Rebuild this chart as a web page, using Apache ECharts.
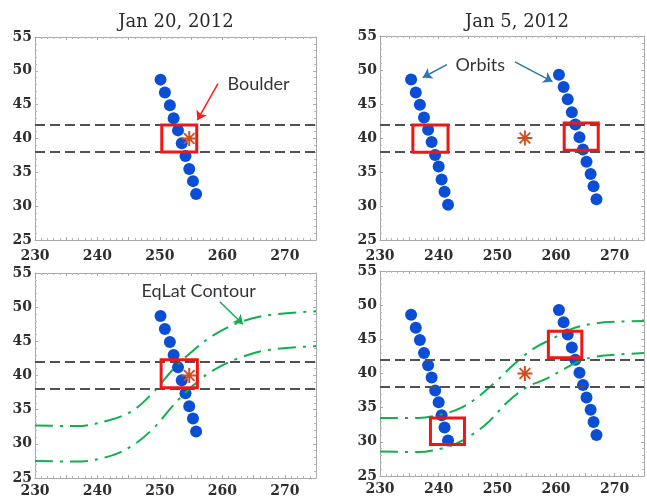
<!DOCTYPE html>
<html>
<head>
<meta charset="utf-8">
<script src="https://cdn.jsdelivr.net/npm/echarts@6/dist/echarts.min.js"></script>
<style>
  html, body { margin: 0; padding: 0; background: #ffffff; }
  #chart { width: 647px; height: 500px; }
</style>
</head>
<body>
<div id="chart"></div>
<script>
// ---- data -------------------------------------------------------------
const lonRange = [230, 275];
const latRange = [25, 55];
const panelTitles = ['Jan 20, 2012', 'Jan 5, 2012'];

// latitude band around Boulder (dashed lines)
const latBand = [38, 42];
// Boulder location (lon E, lat N)
const boulderLon = [254.7];
const boulderLat = [40.0];

// satellite ground tracks
const jan20Lon = [250.1, 250.8, 251.6, 252.2, 252.9, 253.5, 254.1, 254.7, 255.3, 255.8];
const jan20Lat = [48.7, 46.8, 44.9, 43.0, 41.2, 39.3, 37.4, 35.5, 33.7, 31.8];
const jan5WestLon = [235.3, 236.1, 236.8, 237.5, 238.2, 238.8, 239.4, 240.0, 240.5, 241.0, 241.6];
const jan5WestLat = [48.6, 46.7, 44.9, 43.0, 41.2, 39.4, 37.5, 35.8, 33.9, 32.1, 30.2];
const jan5EastLon = [260.5, 261.3, 262.0, 262.7, 263.3, 264.0, 264.6, 265.2, 265.9, 266.4, 266.9];
const jan5EastLat = [49.3, 47.5, 45.7, 43.8, 42.0, 40.1, 38.3, 36.5, 34.7, 32.9, 31.0];

// selected coincidence boxes [lonMin, latMin, lonMax, latMax]
const jan20BoxLat = [[250.3, 38.0, 255.9, 42.0]];
const jan20BoxEqLat = [[250.2, 38.2, 256.0, 42.3]];
const jan5BoxesLat = [[235.6, 37.9, 241.6, 41.9], [261.4, 38.2, 267.2, 42.2]];
const jan5BoxesEqLat = [[238.6, 29.6, 244.4, 33.5], [258.7, 42.3, 264.4, 46.2]];

// equivalent-latitude contours
const jan20ContourLon = [230, 236.7, 242.0, 245.7, 249.0, 252.2, 255.4, 258.6, 262.8, 267.1, 275];
const jan20ContourUpper = [32.7, 32.6, 33.5, 34.9, 37.6, 41.0, 43.7, 45.9, 47.8, 48.8, 49.4];
const jan20ContourLower = [27.5, 27.4, 28.2, 29.8, 32.3, 35.7, 38.6, 40.8, 42.6, 43.7, 44.3];
const jan5UpperLon = [230, 236.5, 240.9, 243.6, 246.3, 249.6, 252.8, 256.1, 259.4, 262.6, 266.4, 271.0, 275];
const jan5UpperLat = [33.5, 33.5, 34.1, 34.9, 36.3, 38.7, 41.3, 43.6, 45.1, 46.5, 47.3, 47.6, 47.7];
const jan5LowerLon = [230, 236.5, 240.9, 243.6, 246.3, 248.5, 251.7, 255.0, 258.3, 261.5, 263.7, 266.4, 271.0, 275];
const jan5LowerLat = [28.6, 28.5, 29.1, 30.0, 31.4, 32.9, 35.8, 38.0, 39.2, 40.7, 41.7, 42.4, 42.8, 43.0];

// ---- helpers ----------------------------------------------------------
const zip = (xs, ys) => xs.map((x, i) => [x, ys[i]]);

const tickFont = {
  fontFamily: 'DejaVu Serif', fontWeight: 'bold', fontSize: 14, color: '#2e2e2e'
};
const frameColor = '#a9a9a9';

const grids = [
  { left: 35, top: 37, width: 281, height: 203 },
  { left: 380, top: 36, width: 276, height: 204 },
  { left: 35, top: 273, width: 281, height: 205 },
  { left: 380, top: 271, width: 276, height: 205 }
];
const xLabelMargin = [9, 9, 6, 6];

function xAxesFor(g) {
  const common = {
    gridIndex: g, type: 'value', min: lonRange[0], max: lonRange[1], interval: 5,
    axisLine: { show: true, onZero: false, lineStyle: { color: frameColor, width: 1 } },
    axisTick: { show: true, inside: true, length: 3, lineStyle: { color: frameColor } },
    minorTick: { show: true, splitNumber: 5, length: 2, lineStyle: { color: '#b8b8b8' } },
    splitLine: { show: false }
  };
  return [
    Object.assign({}, common, {
      position: 'bottom',
      axisLabel: Object.assign({ margin: xLabelMargin[g], formatter: v => (v % 10 === 0 ? String(v) : '') }, tickFont)
    }),
    Object.assign({}, common, { position: 'top', axisLabel: { show: false } })
  ];
}
function yAxesFor(g) {
  const common = {
    gridIndex: g, type: 'value', min: latRange[0], max: latRange[1], interval: 5,
    axisLine: { show: true, onZero: false, lineStyle: { color: frameColor, width: 1 } },
    axisTick: { show: true, inside: true, length: 3, lineStyle: { color: frameColor } },
    minorTick: { show: true, splitNumber: 5, length: 2, lineStyle: { color: '#b8b8b8' } },
    splitLine: { show: false }
  };
  return [
    Object.assign({}, common, { position: 'left', axisLabel: Object.assign({ margin: 3 }, tickFont) }),
    Object.assign({}, common, { position: 'right', axisLabel: { show: false } })
  ];
}

// asterisk marker built from four thin bars
const asterisk = 'path://M8.7,0 L11.3,0 L11.3,20 L8.7,20 Z ' +
  'M0,8.7 L20,8.7 L20,11.3 L0,11.3 Z ' +
  'M2.0,3.8 L3.8,2.0 L18.0,16.2 L16.2,18.0 Z ' +
  'M3.8,18.0 L2.0,16.2 L16.2,2.0 L18.0,3.8 Z';

function orbitSeries(g, lons, lats) {
  return {
    type: 'scatter', xAxisIndex: g * 2, yAxisIndex: g * 2, z: 3,
    symbol: 'circle', symbolSize: 12,
    itemStyle: { color: '#0a4ed6', opacity: 1 },
    data: zip(lons, lats), silent: true
  };
}

function contourSeries(g, lons, lats) {
  return {
    type: 'line', xAxisIndex: g * 2, yAxisIndex: g * 2, z: 4,
    symbol: 'none', smooth: 0.35,
    lineStyle: { color: '#10b04c', width: 2, type: [18, 7, 3, 7] },
    data: zip(lons, lats), silent: true
  };
}

function boulderSeries(g, boxes) {
  return {
    type: 'scatter', xAxisIndex: g * 2, yAxisIndex: g * 2, z: 10,
    symbol: asterisk, symbolSize: 15,
    itemStyle: { color: '#cf4f22', opacity: 1 },
    data: zip(boulderLon, boulderLat), silent: true,
    markLine: {
      silent: true, symbol: 'none', z: 5,
      label: { show: false },
      lineStyle: { color: '#505050', width: 2, type: [10, 5] },
      data: latBand.map(v => ({ yAxis: v }))
    },
    markArea: {
      silent: true, z: 8,
      itemStyle: { color: 'rgba(0,0,0,0)', borderColor: '#f01616', borderWidth: 3 },
      data: boxes.map(b => [{ coord: [b[0], b[1]] }, { coord: [b[2], b[3]] }])
    }
  };
}

// callout text with arrows, positioned in lon/lat
function noteSeries(g, text, at, arrows, color) {
  return {
    type: 'scatter', xAxisIndex: g * 2, yAxisIndex: g * 2, z: 12,
    symbolSize: 0, silent: true,
    data: [[at[0], at[1], text]],
    label: {
      show: true, position: 'inside', formatter: p => p.value[2],
      fontFamily: 'Lato', fontSize: 18, color: '#000000'
    },
    markLine: {
      silent: true, z: 12,
      symbol: ['none', 'arrow'], symbolSize: 9,
      label: { show: false },
      lineStyle: { color: color, width: 1.5, type: 'solid', opacity: 1 },
      data: arrows.map(a => [{ coord: a[0] }, { coord: a[1] }])
    }
  };
}

const series = [
  // Jan 20, latitude selection
  orbitSeries(0, jan20Lon, jan20Lat),
  boulderSeries(0, jan20BoxLat),
  noteSeries(0, 'Boulder', [265.8, 48.0], [[[259.3, 48.1], [256.0, 42.7]]], '#ff1a1a'),
  // Jan 5, latitude selection
  orbitSeries(1, jan5WestLon, jan5WestLat),
  orbitSeries(1, jan5EastLon, jan5EastLat),
  boulderSeries(1, jan5BoxesLat),
  noteSeries(1, 'Orbits', [247.1, 50.7],
    [[[241.4, 50.8], [237.3, 48.9]], [[253.0, 51.2], [259.4, 48.3]]], '#2e75b6'),
  // Jan 20, equivalent-latitude selection
  orbitSeries(2, jan20Lon, jan20Lat),
  contourSeries(2, jan20ContourLon, jan20ContourUpper),
  contourSeries(2, jan20ContourLon, jan20ContourLower),
  boulderSeries(2, jan20BoxEqLat),
  noteSeries(2, 'EqLat Contour', [256.2, 52.3], [[[259.6, 50.8], [263.3, 47.5]]], '#10b04c'),
  // Jan 5, equivalent-latitude selection
  orbitSeries(3, jan5WestLon, jan5WestLat),
  orbitSeries(3, jan5EastLon, jan5EastLat),
  contourSeries(3, jan5UpperLon, jan5UpperLat),
  contourSeries(3, jan5LowerLon, jan5LowerLat),
  boulderSeries(3, jan5BoxesEqLat)
];

const chart = echarts.init(document.getElementById('chart'), null, { renderer: 'canvas' });
chart.setOption({
  animation: false,
  backgroundColor: '#ffffff',
  grid: grids.map(g => Object.assign({ containLabel: false }, g)),
  xAxis: [0, 1, 2, 3].flatMap(xAxesFor),
  yAxis: [0, 1, 2, 3].flatMap(yAxesFor),
  graphic: [
    { type: 'text', x: 176, y: 22, silent: true,
      style: { text: panelTitles[0], align: 'center', verticalAlign: 'middle',
               font: '18px "DejaVu Serif"', fill: '#2a2a2a' } },
    { type: 'text', x: 517, y: 22, silent: true,
      style: { text: panelTitles[1], align: 'center', verticalAlign: 'middle',
               font: '18px "DejaVu Serif"', fill: '#2a2a2a' } }
  ],
  series: series
});
</script>
</body>
</html>
